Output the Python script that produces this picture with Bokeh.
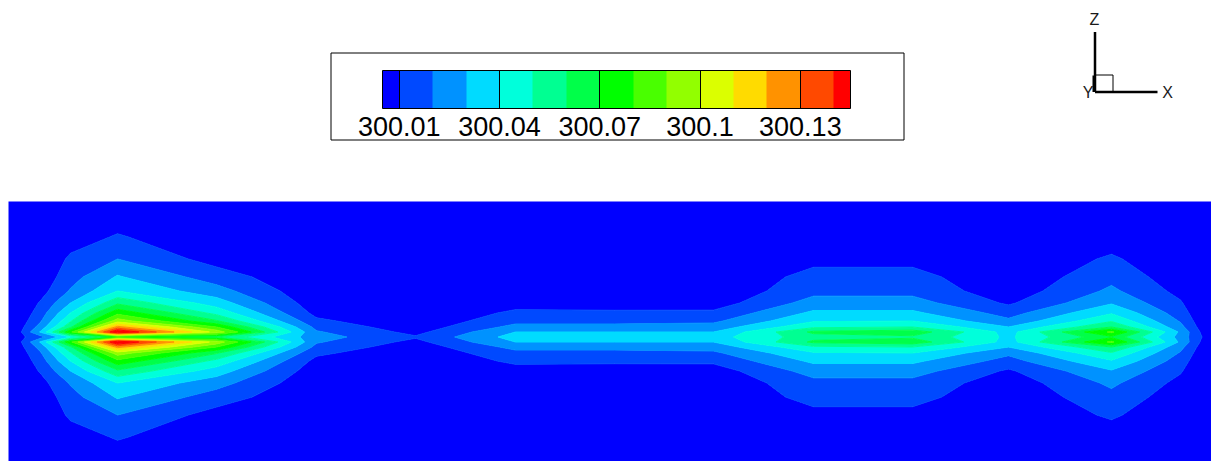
import numpy as np
from bokeh.plotting import figure
from bokeh.models import ColorBar, LinearColorMapper, FixedTicker, BoxAnnotation, Range1d
from bokeh.core.properties import value
from bokeh.embed import file_html
from bokeh.resources import INLINE

# ------------------------------------------------------------------ data
# contour levels (K) and their colours (Tecplot "small rainbow")
LEVELS = [300.01, 300.02, 300.03, 300.04, 300.05, 300.06, 300.07,
          300.08, 300.09, 300.10, 300.11, 300.12, 300.13, 300.14]
BAND_COLORS = ["#0000FF", "#0049FF", "#0092FF", "#00DBFF", "#00FFDB",
               "#00FF92", "#00FF49", "#00FF00", "#49FF00", "#92FF00",
               "#DBFF00", "#FFDB00", "#FF9200", "#FF4900", "#FF0000"]
TICKS = [300.01, 300.04, 300.07, 300.10, 300.13]
TICK_LABELS = ["300.01", "300.04", "300.07", "300.1", "300.13"]

# mesh: stream-wise node positions and distances from the centre line
X_NODES = [8, 20, 40, 70, 117, 216, 316, 415, 515, 614, 713, 813, 912,
           1008, 1111, 1180, 1200, 1211]
D_NODES = [0, 5, 10, 16, 24, 34, 46, 60, 78, 100, 135.5]

# temperature (K) at the nodes of each mesh column, from centre line outward
T_X8 = [300.004, 300.004, 300.003, 300.002, 300.001, 300.0, 300.0, 300.0, 300.0, 300.0, 300.0]
T_X20 = [300.008, 300.009, 300.007, 300.005, 300.003, 300.002, 300.001, 300.0, 300.0, 300.0, 300.0]
T_X40 = [300.016, 300.031, 300.024, 300.019, 300.015, 300.011, 300.006, 300.003, 300.001, 300.0, 300.0]
T_X70 = [300.040, 300.078, 300.058, 300.049, 300.040, 300.030, 300.021, 300.016, 300.0118, 300.005, 300.0]
T_X117 = [300.070, 300.152, 300.123, 300.095, 300.077, 300.058, 300.040, 300.031, 300.020, 300.011, 300.0]
T_X216 = [300.060, 300.096, 300.080, 300.061, 300.047, 300.035, 300.024, 300.015, 300.006, 300.002, 300.0]
T_X316 = [300.024, 300.021, 300.017, 300.012, 300.007, 300.004, 300.002, 300.001, 300.0, 300.0, 300.0]
T_X415 = [300.011, 300.007, 300.004, 300.002, 300.001, 300.0, 300.0, 300.0, 300.0, 300.0, 300.0]
T_X515 = [300.034, 300.030, 300.023, 300.017, 300.012, 300.006, 300.003, 300.001, 300.0, 300.0, 300.0]
T_X614 = [300.036, 300.030, 300.023, 300.017, 300.0115, 300.006, 300.003, 300.001, 300.0, 300.0, 300.0]
T_X713 = [300.036, 300.030, 300.024, 300.018, 300.012, 300.005, 300.002, 300.001, 300.0, 300.0, 300.0]
T_X813 = [300.056, 300.062, 300.048, 300.039, 300.032, 300.024, 300.017, 300.0135, 300.007, 300.003, 300.0]
T_X912 = [300.058, 300.066, 300.050, 300.040, 300.032, 300.024, 300.017, 300.0135, 300.007, 300.003, 300.0]
T_X1008 = [300.038, 300.036, 300.030, 300.022, 300.016, 300.0085, 300.004, 300.002, 300.001, 300.0, 300.0]
T_X1111 = [300.068, 300.082, 300.060, 300.049, 300.039, 300.029, 300.022, 300.017, 300.0115, 300.0045, 300.0]
T_X1180 = [300.026, 300.028, 300.023, 300.019, 300.015, 300.011, 300.007, 300.004, 300.002, 300.001, 300.0]
T_X1200 = [300.011, 300.0095, 300.007, 300.005, 300.003, 300.002, 300.001, 300.0, 300.0, 300.0, 300.0]
T_X1211 = [300.004, 300.003, 300.002, 300.001, 300.0, 300.0, 300.0, 300.0, 300.0, 300.0, 300.0]

COLUMNS = [T_X8, T_X20, T_X40, T_X70, T_X117, T_X216, T_X316, T_X415, T_X515,
           T_X614, T_X713, T_X813, T_X912, T_X1008, T_X1111, T_X1180, T_X1200, T_X1211]

# ------------------------------------------------------------------ layout
W, H = 1211, 461
CENTER_Y_PX = 336.5          # centre line of the field, pixels from the top


def py(y_px):
    """pixel row (from top) -> plot y coordinate"""
    return CENTER_Y_PX - y_px


FONT = "Liberation Sans"

p = figure(width=W, height=H, x_range=Range1d(0, W), y_range=Range1d(py(H), py(0)),
           x_axis_location=None, y_axis_location=None, min_border=0,
           toolbar_location=None, output_backend="svg")
p.xgrid.visible = False
p.ygrid.visible = False
p.outline_line_color = None
p.background_fill_color = "white"
p.border_fill_color = "white"

# ---- contour field (mirror-symmetric about the centre line)
upper = np.array(COLUMNS).T                      # (len(D), len(X))
z = np.vstack([upper[:0:-1], upper])
d_full = np.concatenate([-np.array(D_NODES)[:0:-1], np.array(D_NODES)])
levels = [299.0] + LEVELS + [301.0]
line_colors = BAND_COLORS + [BAND_COLORS[-1]]
p.contour(x=np.array(X_NODES, dtype=float), y=d_full, z=z, levels=levels,
          fill_color=BAND_COLORS, line_color=line_colors, line_width=1)

# ---- legend frame + colour bar
frame = BoxAnnotation(left=330.5, right=903.5, top=py(52.5), bottom=py(139.5),
                      fill_color="white", fill_alpha=1.0,
                      line_color="black", line_alpha=1.0, line_width=1)
p.add_layout(frame)

half = (LEVELS[1] - LEVELS[0]) / 2
cb_palette = [BAND_COLORS[0]] + [c for c in BAND_COLORS[1:-1] for _ in (0, 1)] + [BAND_COLORS[-1]]
mapper = LinearColorMapper(palette=cb_palette, low=LEVELS[0] - half, high=LEVELS[-1] + half)
cb = ColorBar(color_mapper=mapper, orientation="horizontal",
              location=(382, H - 138), width=468, height=38,
              padding=0, margin=0,
              ticker=FixedTicker(ticks=TICKS),
              major_label_overrides=dict(zip(TICKS, TICK_LABELS)),
              major_label_text_font=FONT, major_label_text_font_size="27px",
              major_label_text_color="black", label_standoff=8,
              major_tick_in=38, major_tick_out=0,
              major_tick_line_color="black", major_tick_line_width=1,
              minor_tick_line_color=None,
              bar_line_color="black", bar_line_width=1,
              border_line_color=None, background_fill_alpha=0)
p.add_layout(cb)

# ---- axis triad (Z up, X right, Y into the page)
OX, OY = 1094.5, 91.5
p.segment(x0=[OX, OX], y0=[py(OY), py(OY)], x1=[OX, 1157], y1=[py(31.5), py(OY)],
          line_color="black", line_width=2.5)
p.segment(x0=[OX - 1.5], y0=[py(OY)], x1=[OX - 1.5], y1=[py(75)],
          line_color="black", line_width=2)
p.quad(left=[OX], right=[1112.5], top=[py(74.5)], bottom=[py(OY)],
       fill_color=None, line_color="black", line_width=1)
p.text(x=[1094, 1167, 1087.5], y=[py(18.5), py(91.5), py(91.5)], text=["Z", "X", "Y"],
       text_align="center", text_baseline="middle",
       text_font=value(FONT), text_font_size="16px", text_color="#1a1a1a")

open("out.html", "w").write(file_html(p, INLINE))
